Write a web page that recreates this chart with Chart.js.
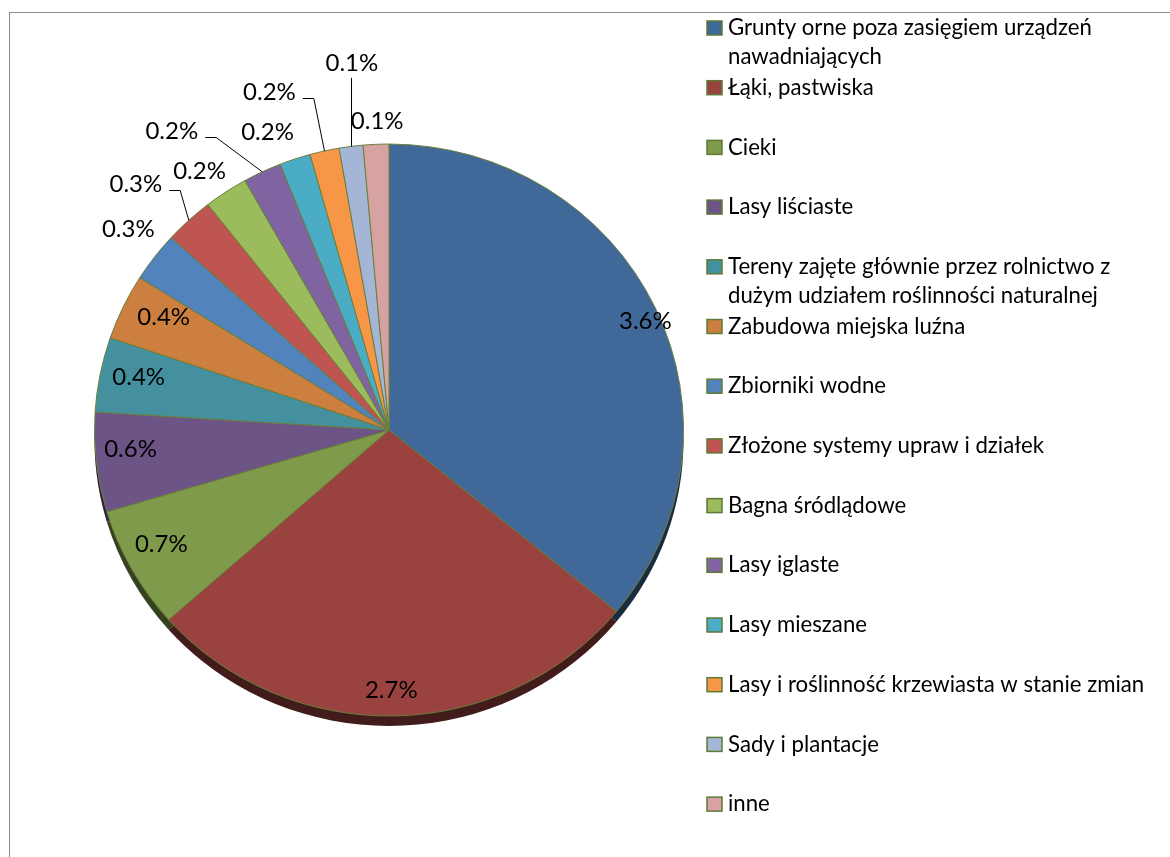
<!DOCTYPE html>
<html>
<head>
<meta charset="utf-8">
<script src="https://cdn.jsdelivr.net/npm/chart.js@4.4.0/dist/chart.umd.min.js"></script>
<style>
  html, body { margin: 0; padding: 0; background: #ffffff; }
  #wrap { position: relative; width: 1170px; height: 857px; overflow: hidden; }
</style>
</head>
<body>
<div id="wrap"><canvas id="pie" width="1170" height="857"></canvas></div>
<script>
// ========================================
// DANE
// ========================================
const categories = [
    'Grunty orne poza zasięgiem urządzeń nawadniających',
    'Łąki, pastwiska',
    'Cieki',
    'Lasy liściaste',
    'Tereny zajęte głównie przez rolnictwo z dużym udziałem roślinności naturalnej',
    'Zabudowa miejska luźna',
    'Zbiorniki wodne',
    'Złożone systemy upraw i działek',
    'Bagna śródlądowe',
    'Lasy iglaste',
    'Lasy mieszane',
    'Lasy i roślinność krzewiasta w stanie zmian',
    'Sady i plantacje',
    'inne'
];

// udział w % (etykiety zaokrąglone do 0.1)
const shares = [3.58, 2.74, 0.69, 0.56, 0.42, 0.37, 0.28, 0.27, 0.24, 0.21, 0.17, 0.16, 0.13, 0.14];

const sliceColors = [
    '#40699a', '#9a4240', '#809a4c', '#6d5486', '#45909f', '#cc7f3f', '#5283bd',
    '#be5551', '#9bbb5d', '#8064a2', '#4bacc6', '#f79646', '#a5b5d5', '#d7a3a2'
];

// ========================================
// UKŁAD (pozycje etykiet, wygląd)
// ========================================
// r = odległość od środka (1 = krawędź), da = przesunięcie kątowe w stopniach
const labelLayout = [
    { r: 0.95, da: 1.7 }, { r: 0.91, da: 0.6 }, { r: 0.87, da: 1.8 }, { r: 0.88, da: 2.2 },
    { r: 0.87, da: 1.1 }, { r: 0.86, da: 1.7 }, { r: 1.13, da: 1.2 },
    { r: 1.215, da: -2.2, leader: true }, { r: 1.11, da: -1.8 },
    { r: 1.28, da: -9.7, leader: true }, { r: 1.12, da: -3 },
    { r: 1.25, da: -6.3, leader: true }, { r: 1.29, da: 1.8, leader: true },
    { r: 1.08, da: 0.4 }
];

const FONT = 'Lato, "Open Sans", sans-serif';
const TILT = 0.971;      // spłaszczenie pionowe (efekt 3D)
const DEPTH = 10;        // grubość "plastra"
const EDGE = '#6a7f3a';

function shade(hex, f) {
    const n = parseInt(hex.slice(1), 16);
    const r = Math.round(((n >> 16) & 255) * f);
    const g = Math.round(((n >> 8) & 255) * f);
    const b = Math.round((n & 255) * f);
    return `rgb(${r},${g},${b})`;
}

// ramka wykresu
const framePlugin = {
    id: 'frame',
    beforeDraw(chart) {
        const ctx = chart.ctx;
        ctx.save();
        ctx.strokeStyle = '#8e8e8e';
        ctx.lineWidth = 1;
        ctx.strokeRect(9.5, 12.5, 1300, 1000);
        ctx.restore();
    }
};

// perspektywa + bok tortu
const tiltPlugin = {
    id: 'tilt',
    beforeDatasetsDraw(chart) {
        const ctx = chart.ctx;
        const arcs = chart.getDatasetMeta(0).data;
        const cx = arcs[0].x, cy = arcs[0].y;
        ctx.save();
        ctx.translate(cx, cy);
        ctx.scale(1, TILT);
        ctx.translate(-cx, -cy);
        arcs.forEach((arc, i) => {
            ctx.beginPath();
            ctx.moveTo(arc.x, arc.y + DEPTH / TILT);
            ctx.arc(arc.x, arc.y + DEPTH / TILT, arc.outerRadius, arc.startAngle, arc.endAngle);
            ctx.closePath();
            ctx.fillStyle = shade(sliceColors[i], 0.42);
            ctx.fill();
        });
    },
    afterDatasetsDraw(chart) {
        chart.ctx.restore();
    }
};

// etykiety danych z liniami odniesienia
const labelPlugin = {
    id: 'sliceLabels',
    afterDatasetsDraw(chart) {
        const ctx = chart.ctx;
        const arcs = chart.getDatasetMeta(0).data;
        ctx.save();
        ctx.font = '24px ' + FONT;
        ctx.fillStyle = '#000';
        ctx.strokeStyle = '#000';
        ctx.lineWidth = 1;
        ctx.textAlign = 'center';
        ctx.textBaseline = 'middle';
        arcs.forEach((arc, i) => {
            const rx = arc.outerRadius, ry = arc.outerRadius * TILT;
            const mid = (arc.startAngle + arc.endAngle) / 2 + Math.PI / 2; // od godziny 12
            const lay = labelLayout[i];
            const a = mid + lay.da * Math.PI / 180;
            const lx = arc.x + Math.sin(a) * rx * lay.r;
            const ly = arc.y - Math.cos(a) * ry * lay.r;
            const text = shares[i].toFixed(1) + '%';
            ctx.fillText(text, lx, ly);
            if (lay.leader) {
                const ax = arc.x + Math.sin(mid) * rx;
                const ay = arc.y - Math.cos(mid) * ry;
                const half = ctx.measureText(text).width / 2;
                ctx.beginPath();
                if (Math.abs(ax - lx) < half) {
                    ctx.moveTo(ax + 0.5, ly + 15);
                    ctx.lineTo(ax + 0.5, ay);
                } else {
                    const sx = lx + half + 7;
                    ctx.moveTo(sx, Math.round(ly + 6) + 0.5);
                    ctx.lineTo(sx + 11, Math.round(ly + 6) + 0.5);
                    ctx.lineTo(ax, ay);
                }
                ctx.stroke();
            }
        });
        ctx.restore();
    }
};

// legenda po prawej (z zawijaniem)
const legendPlugin = {
    id: 'sideLegend',
    afterDraw(chart) {
        const ctx = chart.ctx;
        const x0 = 707, tx = 728, top = 28, step = 59.7, lineH = 29, maxW = 432;
        ctx.save();
        ctx.font = '22.2px ' + FONT;
        ctx.textBaseline = 'middle';
        ctx.textAlign = 'left';
        categories.forEach((name, i) => {
            const y = top + i * step;
            ctx.fillStyle = sliceColors[i];
            ctx.fillRect(x0, y - 7, 15, 14);
            ctx.strokeStyle = '#5e7a35';
            ctx.lineWidth = 1.5;
            ctx.strokeRect(x0, y - 7, 15, 14);
            // zawijanie słów
            const words = name.split(' ');
            let line = '', ly = y;
            ctx.fillStyle = '#000';
            words.forEach(w => {
                const test = line ? line + ' ' + w : w;
                if (ctx.measureText(test).width > maxW && line) {
                    ctx.fillText(line, tx, ly);
                    line = w;
                    ly += lineH;
                } else {
                    line = test;
                }
            });
            ctx.fillText(line, tx, ly);
        });
        ctx.restore();
    }
};

new Chart(document.getElementById('pie'), {
    type: 'pie',
    data: {
        labels: categories,
        datasets: [{
            data: shares,
            backgroundColor: sliceColors,
            borderColor: EDGE,
            borderWidth: 1
        }]
    },
    options: {
        responsive: false,
        animation: false,
        events: [],
        layout: { padding: { left: 94, right: 486, top: 135, bottom: 132 } },
        plugins: {
            legend: { display: false },
            tooltip: { enabled: false }
        }
    },
    plugins: [framePlugin, tiltPlugin, labelPlugin, legendPlugin]
});
</script>
</body>
</html>
